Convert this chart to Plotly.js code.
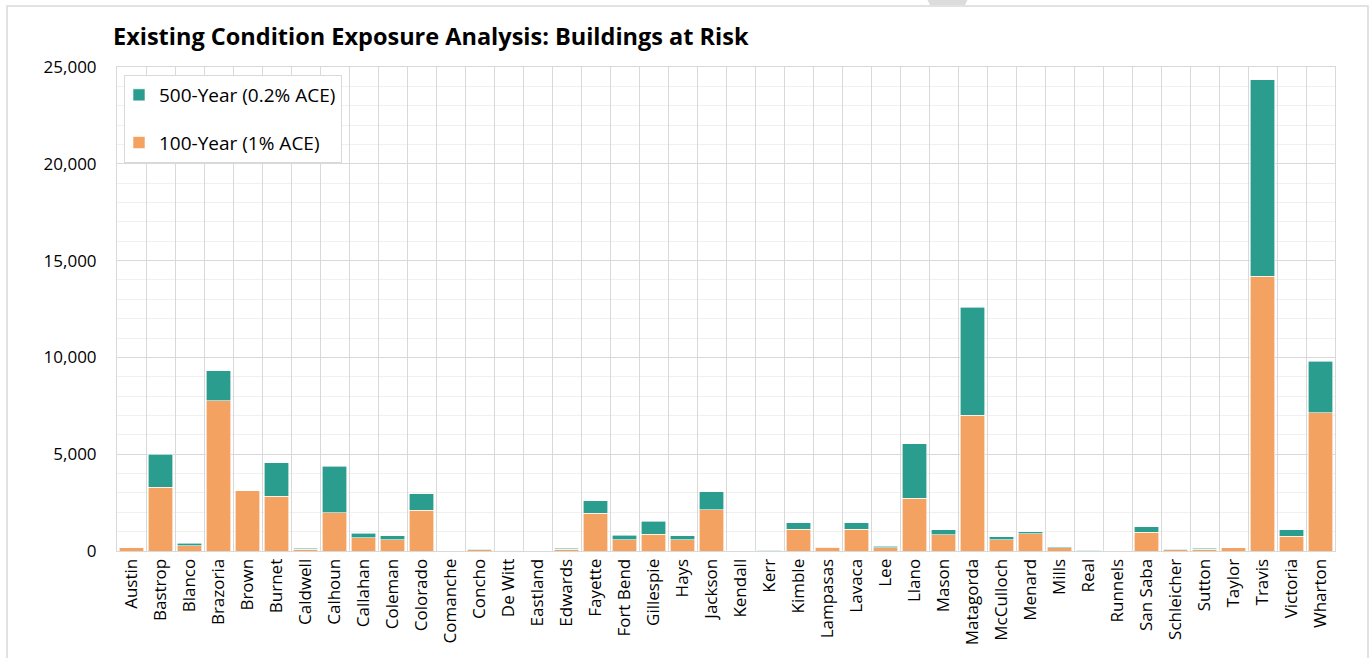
<!DOCTYPE html>
<html>
<head>
<meta charset="utf-8">
<script src="https://cdn.plot.ly/plotly-3.0.1.min.js"></script>
<style>
html,body{margin:0;padding:0;background:#fff;}
#chart{width:1370px;height:658px;}
</style>
</head>
<body>
<div id="chart"></div>
<script>
const counties = ["Austin","Bastrop","Blanco","Brazoria","Brown","Burnet","Caldwell","Calhoun","Callahan","Coleman","Colorado","Comanche","Concho","De Witt","Eastland","Edwards","Fayette","Fort Bend","Gillespie","Hays","Jackson","Kendall","Kerr","Kimble","Lampasas","Lavaca","Lee","Llano","Mason","Matagorda","McCulloch","Menard","Mills","Real","Runnels","San Saba","Schleicher","Sutton","Taylor","Travis","Victoria","Wharton"];

// Buildings in the 100-year (1% ACE) floodplain
const year100 = [200,3300,280,7750,3110,2840,90,1980,690,585,2100,0,60,50,0,90,1960,585,860,585,2135,0,10,1135,200,1135,170,2720,845,7025,570,895,180,10,0,965,60,80,170,14200,760,7130];

// Additional buildings in the 500-year (0.2% ACE) floodplain (stacked on top)
const year500extra = [0,1700,120,1550,0,1720,50,2410,240,205,845,0,40,0,0,65,640,240,670,205,915,0,40,325,20,325,80,2830,240,5570,155,105,30,40,0,275,40,60,0,10130,340,2680];

const orange = "#F4A261";
const teal = "#2A9D8F";
const axisFont = {family: "Open Sans, sans-serif", size: 17, color: "#000"};

const traces = [
  {
    type: "bar", name: "100-Year (1% ACE)", x: counties, y: year100,
    marker: {color: orange, line: {color: "#ffffff", width: 0.6}},
    legendgroup: "g100", legendrank: 2,
    hovertemplate: "%{x}: %{y:,}<extra>100-Year</extra>"
  },
  {
    type: "bar", name: "500-Year (0.2% ACE)", x: counties, y: year500extra,
    marker: {color: teal, line: {color: "#ffffff", width: 0.6}},
    legendgroup: "g500", legendrank: 1,
    hovertemplate: "%{x}: %{y:,}<extra>500-Year</extra>"
  }
];

const layout = {
  width: 1370, height: 658,
  paper_bgcolor: "#fff", plot_bgcolor: "#fff",
  margin: {l: 117, r: 35, t: 67, b: 107, pad: 0},
  barmode: "stack", bargap: 0.17,
  title: {
    text: "<b>Existing Condition Exposure Analysis: Buildings at Risk</b>",
    font: {family: "Open Sans, sans-serif", size: 23.5, color: "#000"},
    xref: "container", x: 113/1370, xanchor: "left",
    yref: "container", y: 1 - 37/658, yanchor: "middle"
  },
  xaxis: {
    type: "category", tickangle: -90, tickson: "boundaries",
    showgrid: true, gridcolor: "#d9d9d9", gridwidth: 1,
    ticks: "", ticklen: 0, tickfont: axisFont,
    showline: true, linecolor: "#d9d9d9", linewidth: 1, mirror: true,
    automargin: false
  },
  yaxis: {
    range: [0, 25000], dtick: 5000, tickformat: ",d",
    showgrid: true, gridcolor: "#d9d9d9", gridwidth: 1,
    minor: {dtick: 1000, showgrid: true, gridcolor: "#f0f0f0", gridwidth: 1},
    zeroline: false, showline: true, linecolor: "#d9d9d9", linewidth: 1, mirror: true,
    tickfont: axisFont, ticklabelstandoff: 16, automargin: false
  },
  showlegend: true,
  legend: {
    x: 7/1218, y: (551-75)/484, xanchor: "left", yanchor: "top",
    traceorder: "grouped", tracegroupgap: 20,
    bgcolor: "#fff", bordercolor: "#d9d9d9", borderwidth: 1,
    font: {family: "Open Sans, sans-serif", size: 19, color: "#000"},
    itemwidth: 30, indentation: -6
  },
  shapes: [
    {type: "rect", xref: "paper", yref: "paper",
     x0: -110/1218, x1: 1251/1218, y0: (551-672)/484, y1: (551-6)/484,
     line: {color: "#d9d9d9", width: 1.5}, fillcolor: "rgba(0,0,0,0)", layer: "below"},
    {type: "path", xref: "paper", yref: "paper",
     path: "M " + (808/1218) + "," + ((551+5)/484) + " L " + (853/1218) + "," + ((551+5)/484) +
           " L " + (848/1218) + "," + ((551-5)/484) + " L " + (813/1218) + "," + ((551-5)/484) + " Z",
     line: {width: 0}, fillcolor: "#dcdcdc", layer: "below"}
  ]
};

Plotly.newPlot("chart", traces, layout, {displayModeBar: false, staticPlot: true});
</script>
</body>
</html>
